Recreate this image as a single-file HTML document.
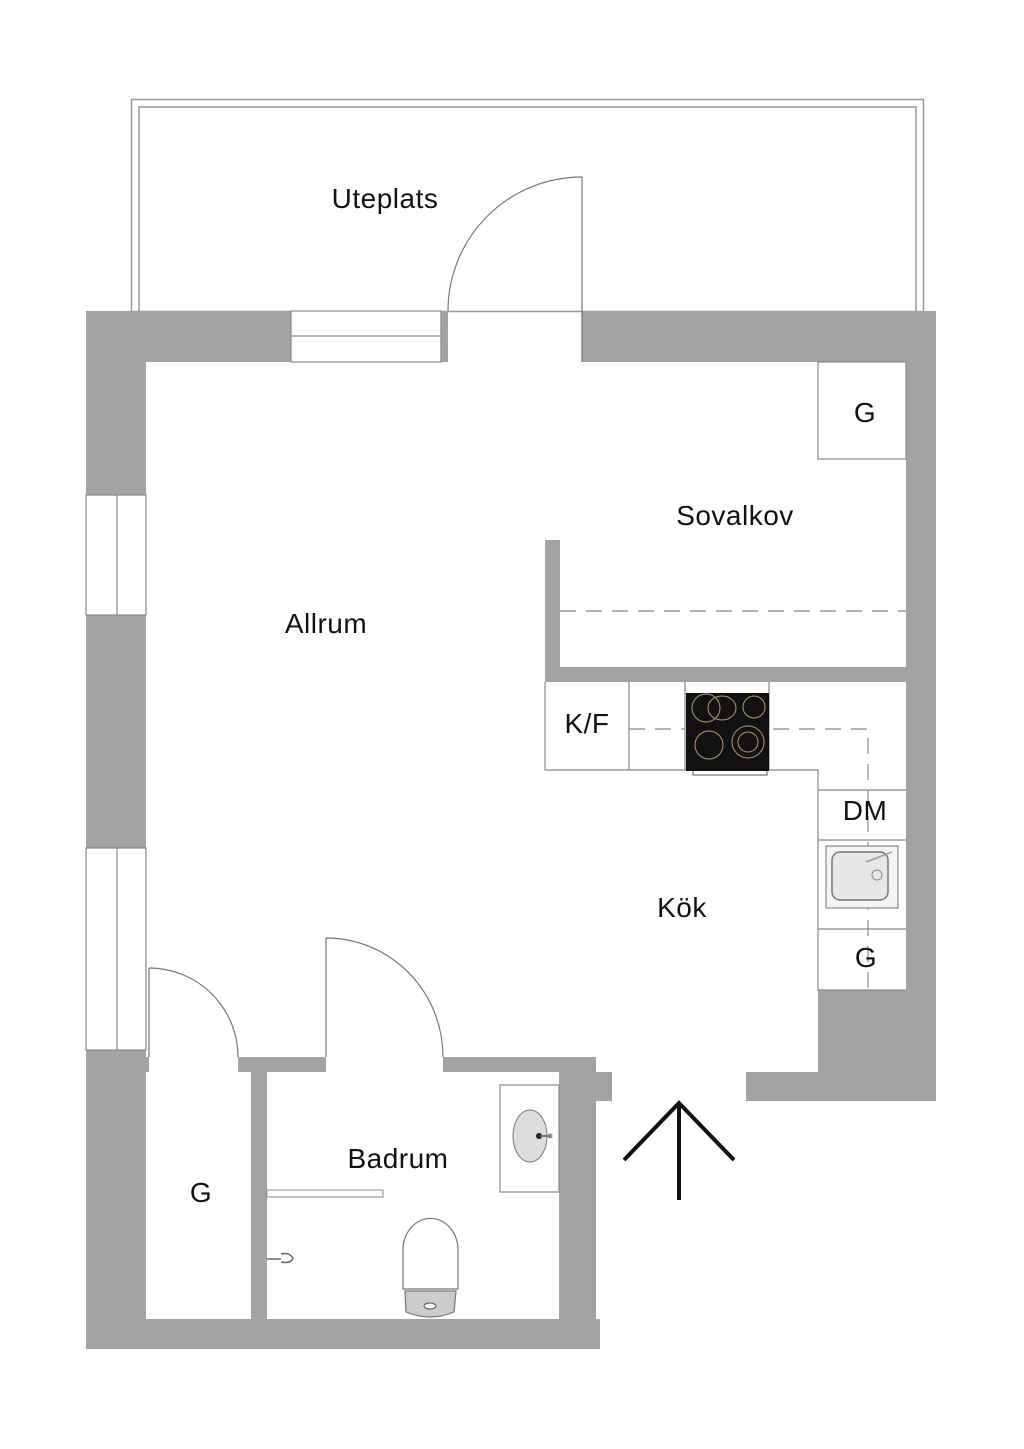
<!DOCTYPE html>
<html><head><meta charset="utf-8"><style>
html,body{margin:0;padding:0;background:#fff;}
svg{display:block;}
text{font-family:"Liberation Sans",sans-serif;font-size:28px;fill:#111;text-anchor:middle;letter-spacing:0.5px;}
</style></head><body>
<svg width="1024" height="1449" viewBox="0 0 1024 1449" xmlns="http://www.w3.org/2000/svg">
<rect width="1024" height="1449" fill="#fff"/>
<!-- balcony -->
<rect x="131.5" y="99.5" width="792" height="212" fill="none" stroke="#999" stroke-width="1.5"/>
<path d="M139 311 V107 H916 V311" fill="none" stroke="#999" stroke-width="1.5"/>
<g fill="#a3a3a3" stroke="none">
<!-- top walls -->
<rect x="86" y="311" width="205" height="51"/>
<rect x="441" y="311" width="7" height="51"/>
<rect x="582" y="311" width="354" height="51"/>
<!-- left wall -->
<rect x="86" y="362" width="60" height="133"/>
<rect x="86" y="615" width="60" height="233"/>
<rect x="86" y="1050" width="60" height="299"/>
<rect x="145" y="1057" width="4" height="15"/>
<!-- right wall -->
<rect x="906" y="362" width="30" height="739"/>
<rect x="818" y="990" width="90" height="111"/>
<rect x="746" y="1072" width="74" height="29"/>
<!-- bottom -->
<rect x="86" y="1319" width="514" height="30"/>
<rect x="238" y="1057" width="88" height="15"/>
<rect x="443" y="1057" width="153" height="15"/>
<rect x="559" y="1057" width="37" height="292"/>
<rect x="596" y="1072" width="16" height="29"/>
<rect x="251" y="1072" width="16" height="247"/>
<!-- sovalkov partition -->
<rect x="545" y="540" width="15" height="142"/>
<rect x="545" y="667" width="361" height="15"/>
</g>
<!-- windows -->
<g fill="#fff" stroke="#888" stroke-width="1.2">
<rect x="291" y="311" width="150" height="51"/><line x1="291" y1="336" x2="441" y2="336"/>
<rect x="86" y="495" width="60" height="120"/><line x1="117" y1="495" x2="117" y2="615"/>
<rect x="86" y="848" width="60" height="202"/><line x1="117" y1="848" x2="117" y2="1050"/>
</g>
<!-- doors -->
<g fill="none" stroke="#777" stroke-width="1.2">
<path d="M448 311 A134 134 0 0 1 582 177"/>
<line x1="582" y1="177" x2="582" y2="362"/>
<line x1="149" y1="968" x2="149" y2="1057"/>
<path d="M149 968 A89 89 0 0 1 238 1057"/>
<line x1="326" y1="938" x2="326" y2="1057"/>
<path d="M326 938 A117 119 0 0 1 443 1057"/>
</g>
<!-- wardrobe G top -->
<rect x="818" y="362" width="88" height="97" fill="#fff" stroke="#888" stroke-width="1.2"/>
<line x1="560" y1="611" x2="906" y2="611" stroke="#888" stroke-width="1.2" stroke-dasharray="16,10"/>
<!-- kitchen -->
<g fill="none" stroke="#888" stroke-width="1.2">
<path d="M545 682 V770 H818 V990 H906"/>
<line x1="629" y1="682" x2="629" y2="770"/>
<line x1="685" y1="682" x2="685" y2="770"/>
<line x1="769" y1="682" x2="769" y2="770"/>
<line x1="818" y1="790" x2="906" y2="790"/>
<line x1="818" y1="840" x2="906" y2="840"/>
<line x1="818" y1="929" x2="906" y2="929"/>
<path d="M629 729 H685 M773 729 H868 V990" stroke-dasharray="16,10"/>
</g>
<rect x="686" y="693" width="83" height="78" fill="#111"/>
<g fill="none" stroke="#b89a6a" stroke-width="1">
<circle cx="706" cy="708" r="14"/><ellipse cx="722" cy="708" rx="14" ry="12"/>
<circle cx="754" cy="707" r="11"/>
<circle cx="709" cy="745" r="14"/>
<circle cx="748" cy="742" r="16"/><circle cx="748" cy="742" r="10"/>
</g>
<path d="M693 771 v4 h74 v-4" fill="none" stroke="#555" stroke-width="1"/>
<!-- kitchen sink -->
<rect x="826" y="846" width="72" height="62" fill="#f4f4f4" stroke="#888" stroke-width="1.2"/>
<rect x="832" y="852" width="56" height="48" rx="8" fill="#e6e6e6" stroke="#777" stroke-width="1.5"/>
<circle cx="877" cy="875" r="5" fill="none" stroke="#888"/>
<line x1="866" y1="862" x2="892" y2="852" stroke="#999" stroke-width="1.5"/>
<!-- bathroom -->
<rect x="500" y="1085" width="59" height="107" fill="#fff" stroke="#888" stroke-width="1.2"/>
<ellipse cx="530" cy="1136" rx="17" ry="26" fill="#ddd" stroke="#777"/>
<circle cx="539" cy="1136" r="3" fill="#222"/><line x1="539" y1="1136" x2="549" y2="1136" stroke="#555" stroke-width="1.5"/><circle cx="550" cy="1136" r="2.5" fill="#888"/>
<rect x="267" y="1190" width="116" height="7" fill="#fff" stroke="#888" stroke-width="1"/>
<path d="M403 1289 V1250 A27 31 0 0 1 458 1250 V1289 Z" fill="#fff" stroke="#777" stroke-width="1.2"/>
<path d="M405 1291 H456 L454 1312 Q430 1322 406 1312 Z" fill="#ccc" stroke="#777" stroke-width="1.2"/>
<ellipse cx="430" cy="1306" rx="6" ry="3" fill="#fff" stroke="#555"/>
<path d="M267 1259 h14 M281 1254 q8 -2 12 4 q-2 6 -12 4" fill="none" stroke="#666" stroke-width="1.5"/>
<!-- entrance arrow -->
<g stroke="#111" stroke-width="4" fill="none">
<line x1="679" y1="1103" x2="679" y2="1200"/>
<path d="M624 1160 L679 1103 L734 1160"/>
</g>
<!-- labels -->
<text x="385" y="208">Uteplats</text>
<text x="865" y="422">G</text>
<text x="735" y="525">Sovalkov</text>
<text x="326" y="633">Allrum</text>
<text x="587" y="733">K/F</text>
<text x="865" y="820">DM</text>
<text x="682" y="917">Kök</text>
<text x="866" y="967">G</text>
<text x="398" y="1168">Badrum</text>
<text x="201" y="1202">G</text>
</svg>
</body></html>
